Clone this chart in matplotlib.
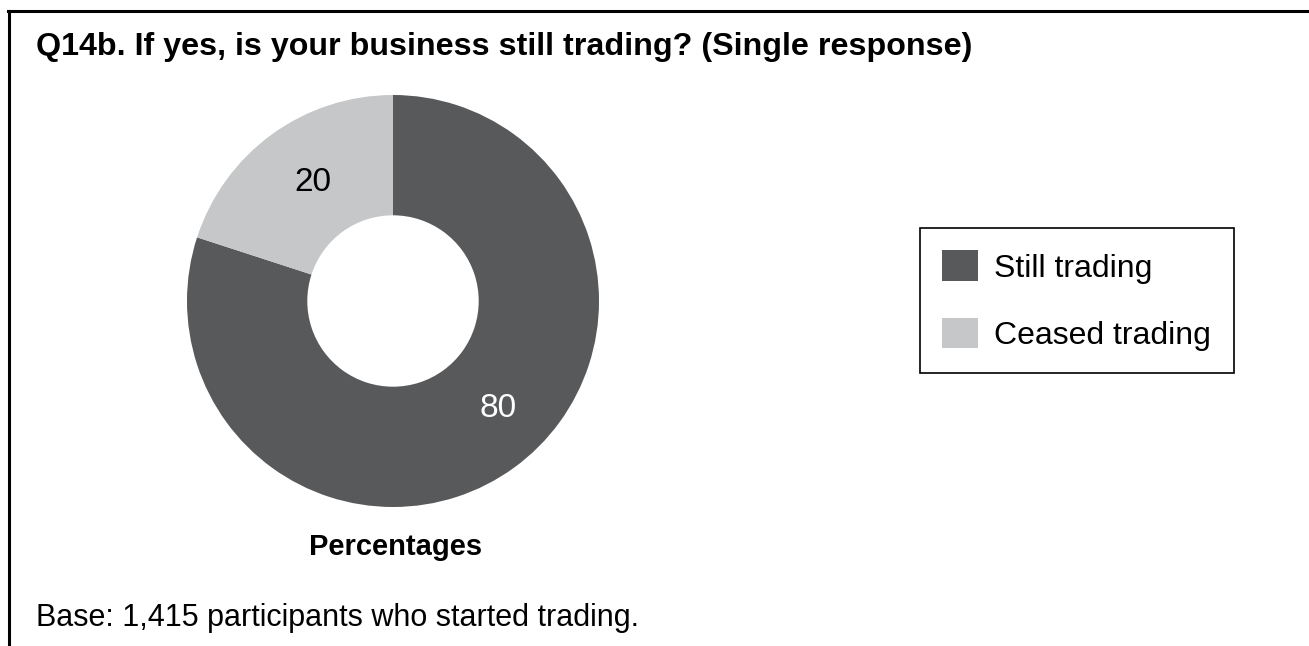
import matplotlib.pyplot as plt
import numpy as np
from matplotlib.lines import Line2D
from matplotlib.patches import Patch

# data
categories = ['Still trading', 'Ceased trading']
percentages = [80, 20]
colors = ['#58595b', '#c6c7c8']
label_colors = ['white', 'black']
# small angle nudges (degrees) so labels sit where the original put them
label_nudge = [8.5, -2.0]

title = 'Q14b. If yes, is your business still trading? (Single response)'
footnote = 'Base: 1,415 participants who started trading.'

W, H = 1309, 646
plt.rcParams['font.family'] = ['Liberation Sans', 'DejaVu Sans']


def main():
    fig = plt.figure(figsize=(W / 100, H / 100), dpi=100)

    # pie axes: centre (393, 301) px, radius 206 px
    cx, cy, r = 393, 301, 206
    ax = fig.add_axes([(cx - r) / W, (H - cy - r) / H, 2 * r / W, 2 * r / H])
    wedges, _ = ax.pie(percentages, colors=colors, startangle=90, counterclock=False,
                       radius=1, wedgeprops=dict(width=0.584, linewidth=0))
    ax.set_xlim(-1, 1)
    ax.set_ylim(-1, 1)
    ax.set_aspect('equal')
    ax.axis('off')

    for w, val, tc, nudge in zip(wedges, percentages, label_colors, label_nudge):
        ang = np.deg2rad((w.theta1 + w.theta2) / 2 + nudge)
        ax.text(0.71 * np.cos(ang) + 0.01, 0.71 * np.sin(ang) - 0.015, str(val), color=tc,
                fontsize=24, ha='center', va='center')

    # texts
    fig.text(36 / W, 1 - 55 / H, title, fontsize=23.2, fontweight='bold',
             ha='left', va='baseline')
    fig.text(396 / W, 1 - 555 / H, 'Percentages', fontsize=21, fontweight='bold',
             ha='center', va='baseline')
    fig.text(36 / W, 1 - 626 / H, footnote, fontsize=22, ha='left', va='baseline')

    # legend
    handles = [Patch(facecolor=c, edgecolor='none') for c in colors]
    leg = fig.legend(handles, categories, loc='upper left',
                     bbox_to_anchor=(920 / W, 1 - 228 / H), borderaxespad=0,
                     fontsize=23, frameon=True, fancybox=False, framealpha=1,
                     handlelength=1.1, handleheight=1.1, handletextpad=0.53,
                     labelspacing=1.07, borderpad=0.7)
    leg.get_frame().set_edgecolor('black')
    leg.get_frame().set_linewidth(1.2)

    # frame lines (top and left only)
    fig.add_artist(Line2D([8 / W, 1], [1 - 10.5 / H, 1 - 10.5 / H], color='black', lw=2.2))
    fig.add_artist(Line2D([9 / W, 9 / W], [0, 1 - 10.5 / H], color='black', lw=2.2))

    fig.savefig('out.png', dpi=100)


if __name__ == '__main__':
    main()
